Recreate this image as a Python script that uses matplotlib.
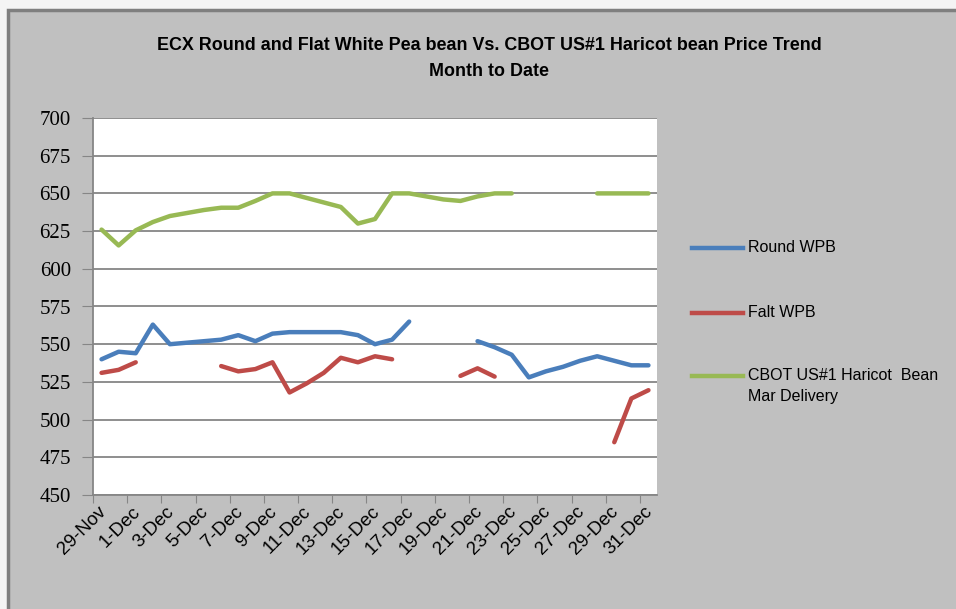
import numpy as np
import matplotlib
matplotlib.use("Agg")
import matplotlib.pyplot as plt
from matplotlib.patches import Rectangle

nan = np.nan

# dates 29-Nov .. 31-Dec, one point per day
days = ["29-Nov", "30-Nov"] + [f"{d}-Dec" for d in range(1, 32)]

round_wpb = [540, 545, 544, 563, 550, 551, 552, 553, 556, 552, 557, 558, 558, 558,
             558, 556, 550, 553, 565, nan, nan, nan, 552, 548, 543, 528, 532, 535,
             539, 542, 539, 536, 536]
falt_wpb = [531, 533, 538, nan, nan, nan, nan, 535.5, 532, 533.5, 538, 518, 524, 531,
            541, 538, 542, 540, nan, nan, nan, 529, 534, 528.5, nan, nan, nan, nan,
            nan, nan, 485, 514, 519.5]
cbot = [626, 615.5, 625.5, 631, 635, 637, 639, 640.5, 640.5, 645, 650, 650, 647, 644,
        641, 630, 633, 650, 650, 648, 646, 645, 648, 650, 650, nan, nan, nan, nan,
        650, 650, 650, 650]

series_names = ["Round WPB", "Falt WPB", "CBOT US#1 Haricot  Bean\nMar Delivery"]
series_colors = ["#4A7EBB", "#BE4B48", "#98B954"]

W, H = 956, 609
fig = plt.figure(figsize=(W / 100, H / 100), dpi=100)
fig.patch.set_facecolor("#F4F4F4")

# grey chart background with darker frame on the left/top
fig.patches.append(Rectangle((8 / W, -0.05), 1.1, 1 - 10 / H + 0.05,
                             transform=fig.transFigure, facecolor="#C0C0C0",
                             edgecolor="#7F7F7F", lw=2.5, zorder=-5))

ax = fig.add_axes([93 / W, 1 - 495 / H, (657 - 93) / W, (495 - 118) / H])
ax.set_zorder(2)
ax.set_facecolor("white")

x = np.arange(len(days))
for vals, name, col in zip([round_wpb, falt_wpb, cbot], series_names, series_colors):
    ax.plot(x, vals, color=col, lw=3.2, label=name,
            solid_capstyle="round", solid_joinstyle="round")

ax.set_xlim(-0.5, len(days) - 0.5)
ax.set_ylim(450, 700)
ax.set_yticks(np.arange(450, 701, 25))
ax.yaxis.grid(True, color="#868686", lw=1.3)
ax.set_axisbelow(True)

# tick marks between categories, labels every second day
ax.set_xticks(np.arange(-0.5, len(days) - 1, 2))
ax.set_xticklabels([])
ax.set_xticks(x[::2] - 0.25, minor=True)
ax.set_xticklabels(days[::2], minor=True, rotation=45, ha="right",
                   rotation_mode="anchor", fontsize=13.5, family="Liberation Sans")
ax.tick_params(axis="x", which="minor", length=0, pad=6)
ax.tick_params(axis="x", which="major", length=6, color="#868686", direction="out")
ax.tick_params(axis="y", length=8, color="#868686", pad=8)
for lab in ax.get_yticklabels():
    lab.set_fontfamily("Liberation Serif")
    lab.set_fontsize(15)

for side in ["left", "bottom"]:
    ax.spines[side].set_color("#868686")
    ax.spines[side].set_linewidth(1.3)
for side in ["top", "right"]:
    ax.spines[side].set_visible(False)

fig.text(489 / W, 1 - 45 / H, "ECX Round and Flat White Pea bean Vs. CBOT US#1 Haricot bean Price Trend",
         ha="center", va="center", fontsize=12.9, fontweight="bold", family="Liberation Sans")
fig.text(489 / W, 1 - 72 / H, "Month to Date", ha="center", va="center",
         fontsize=12.9, fontweight="bold", family="Liberation Sans")

# legend drawn by hand to match the spaced-out layout
leg_y = [248, 313, 376]
for yy, name, col in zip(leg_y, series_names, series_colors):
    fig.lines.append(plt.Line2D([692 / W, 743 / W], [1 - yy / H, 1 - yy / H],
                                transform=fig.transFigure, color=col, lw=3.2))
    fig.text(748 / W, 1 - (yy - 8) / H, name, ha="left", va="top",
             fontsize=11.5, family="Liberation Sans", linespacing=1.5)

fig.savefig("out.png", dpi=100, facecolor=fig.get_facecolor())
